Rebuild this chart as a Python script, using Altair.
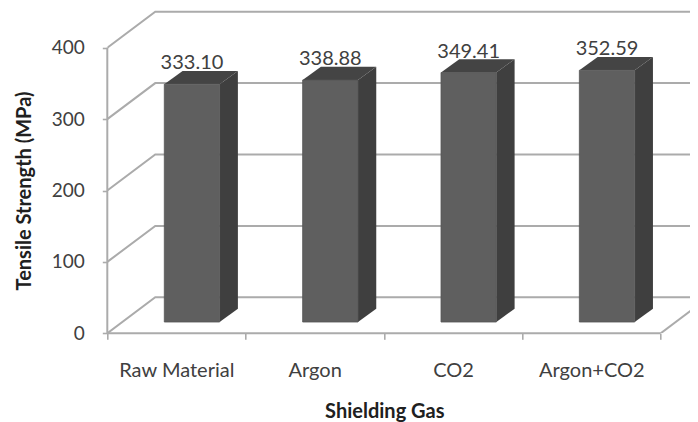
import altair as alt
import pandas as pd

categories = ["Raw Material", "Argon", "CO2", "Argon+CO2"]
strengths = [333.10, 338.88, 349.41, 352.59]
y_ticks = [0, 100, 200, 300, 400]
x_ticks = [0, 1, 2, 3, 4]

# projection of the depth axis, in data units (categories, MPa)
WALL_DX, WALL_DY = 0.3466, 50.4
BAR_DX0, BAR_DY0 = 0.112, 15.8
BAR_DX, BAR_DY = 0.132, 18.6
BAR_W = 0.40
PLOT_W = 582.7
PLOT_H = 325.3
XMAX = PLOT_W / 138.35
YMAX = PLOT_H / 0.714

LINE = "#ababab"
TEXT = "#404040"
FONT = "Lato"

wall_rows = []
for v in y_ticks:
    wall_rows += [
        {"g": f"h{v}", "o": 0, "x": 0, "y": v},
        {"g": f"h{v}", "o": 1, "x": WALL_DX, "y": v + WALL_DY},
        {"g": f"h{v}", "o": 2, "x": XMAX + 0.1, "y": v + WALL_DY},
    ]
wall_rows += [
    {"g": "side", "o": 0, "x": 4, "y": 0},
    {"g": "side", "o": 1, "x": 4 + WALL_DX, "y": WALL_DY},
]
walls = pd.DataFrame(wall_rows)
frame = pd.DataFrame([
    {"g": "front", "o": 0, "x": 0, "y": 0},
    {"g": "front", "o": 1, "x": 4, "y": 0},
    {"g": "yaxis", "o": 0, "x": 0, "y": 0},
    {"g": "yaxis", "o": 1, "x": 0, "y": 400},
])

front, side, top, labels = [], [], [], []
for i, (c, v) in enumerate(zip(categories, strengths)):
    x0 = i + 0.5 + BAR_DX0 - BAR_W / 2
    x1 = x0 + BAR_W
    base = BAR_DY0
    tip = BAR_DY0 + v
    front.append({"c": c, "x": x0, "x2": x1, "y": base, "y2": tip})
    side += [
        {"c": c, "x": x1, "y": base, "y2": tip},
        {"c": c, "x": x1 + BAR_DX, "y": base + BAR_DY, "y2": tip + BAR_DY},
    ]
    top += [
        {"c": c, "y": tip, "x": x0, "x2": x1},
        {"c": c, "y": tip + BAR_DY, "x": x0 + BAR_DX, "x2": x1 + BAR_DX},
    ]
    labels.append({"c": c, "x": (x0 + x1) / 2, "y": tip, "v": v})

xs = alt.Scale(domain=[0, XMAX], nice=False, zero=False)
ys = alt.Scale(domain=[0, YMAX], nice=False, zero=False)
label_js = str(categories + [""])

X = alt.X(
    "x:Q",
    scale=xs,
    axis=alt.Axis(
        values=x_ticks,
        domain=False,
        grid=False,
        tickColor=LINE,
        tickWidth=1.6,
        tickSize=6,
        labelExpr=f"{label_js}[datum.value]",
        labelOffset=69,
        labelPadding=21,
        labelFont=FONT,
        labelFontSize=20,
        labelColor=TEXT,
        labelOverlap=False,
        labelBound=False,
        labelFlush=False,
        title="Shielding Gas",
        titleFont=FONT,
        titleFontSize=20,
        titleFontWeight="bold",
        titleColor="#202020",
        titleX=277,
        titleY=84,
        titleBaseline="alphabetic",
    ),
)
Y = alt.Y(
    "y:Q",
    scale=ys,
    axis=alt.Axis(
        values=y_ticks,
        domain=False,
        grid=False,
        tickColor=LINE,
        tickWidth=1.6,
        tickSize=5,
        labelPadding=18,
        labelFont=FONT,
        labelFontSize=19,
        labelColor=TEXT,
        title="Tensile Strength (MPa)",
        titleFont=FONT,
        titleFontSize=20,
        titleFontWeight="bold",
        titleColor="#202020",
        titleX=-83,
        titleY=182.5,
        titleBaseline="middle",
    ),
)

wall_lines = (
    alt.Chart(walls)
    .mark_line(color=LINE, strokeWidth=2, clip=True)
    .encode(x=X, y=Y, detail="g:N", order="o:Q")
)

axis_lines = (
    alt.Chart(frame)
    .mark_line(color=LINE, strokeWidth=2)
    .encode(x=X, y=Y, detail="g:N", order="o:Q")
)

side_faces = (
    alt.Chart(pd.DataFrame(side))
    .mark_area(color="#3f3f3f", orient="vertical")
    .encode(x=X, y=Y, y2="y2:Q", detail="c:N")
)

top_faces = (
    alt.Chart(pd.DataFrame(top))
    .mark_area(color="#444444", orient="horizontal")
    .encode(y=Y, x=X, x2="x2:Q", detail="c:N")
)

front_faces = (
    alt.Chart(pd.DataFrame(front))
    .mark_rect(color="#5f5f5f", stroke="#555555", strokeWidth=0.8)
    .encode(x=X, x2="x2:Q", y=Y, y2="y2:Q")
)

value_labels = (
    alt.Chart(pd.DataFrame(labels))
    .mark_text(font=FONT, fontSize=20, color=TEXT, baseline="alphabetic", dy=-15)
    .encode(x=X, y=Y, text=alt.Text("v:Q", format=".2f"))
)

chart = (
    alt.layer(wall_lines, axis_lines, side_faces, top_faces, front_faces, value_labels)
    .properties(
        width=PLOT_W,
        height=PLOT_H,
        autosize=alt.AutoSizeParams(type="none"),
        padding={"left": 99.3, "top": 0, "right": 0, "bottom": 88.7},
        background="white",
    )
    .configure_view(stroke=None)
)

chart.save("out.html", embed_options={"renderer": "svg", "actions": False})
